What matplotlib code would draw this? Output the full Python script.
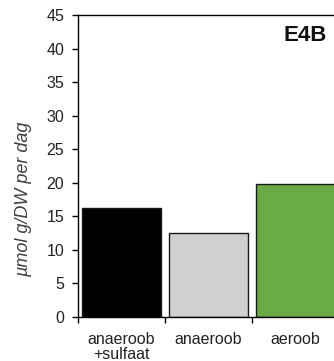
import matplotlib.pyplot as plt
import numpy as np

plt.rcParams['font.family'] = ['Liberation Sans', 'DejaVu Sans']

categories = ['anaeroob\n+sulfaat', 'anaeroob', 'aeroob']
values = [16.2, 12.5, 19.8]
colors = ['#000000', '#d0d0d0', '#6aab46']
yticks = [0, 5, 10, 15, 20, 25, 30, 35, 40, 45]

fig = plt.figure(figsize=(3.34, 3.61), dpi=100)
# axes runs past the right edge, like the cropped original
ax = fig.add_axes([78 / 334, 1 - 317 / 361, 261 / 334, 302 / 361])

x = np.arange(len(categories)) + 0.5
ax.bar(x, values, width=0.9, color=colors, edgecolor='#1a1a1a', linewidth=1.0)

ax.set_xlim(0, 3)
ax.set_ylim(0, 45)
ax.set_yticks(yticks)
ax.set_xticks(np.arange(len(categories) + 1))
ax.set_xticklabels([])
ax.set_xticks(x, minor=True)
ax.set_xticklabels(categories, minor=True, fontsize=11.5, color='#222222', linespacing=0.95)
ax.tick_params(axis='x', which='minor', length=0, pad=11)
ax.tick_params(axis='x', which='major', length=4, direction='out', width=1)
ax.tick_params(axis='y', length=4, direction='out', width=1, labelsize=11.5,
               labelcolor='#222222', pad=6)

for s in ax.spines.values():
    s.set_linewidth(1.0)
    s.set_color('#000000')

ax.set_ylabel('µmol g/DW per dag', fontsize=13, style='italic', color='#404040')
ax.yaxis.set_label_coords(-0.176, 0.39)

ax.text(0.954, 0.932, 'E4B', transform=ax.transAxes, fontsize=16,
        fontweight='bold', ha='right', va='center', color='#111111')

fig.savefig('out.png', dpi=100)
